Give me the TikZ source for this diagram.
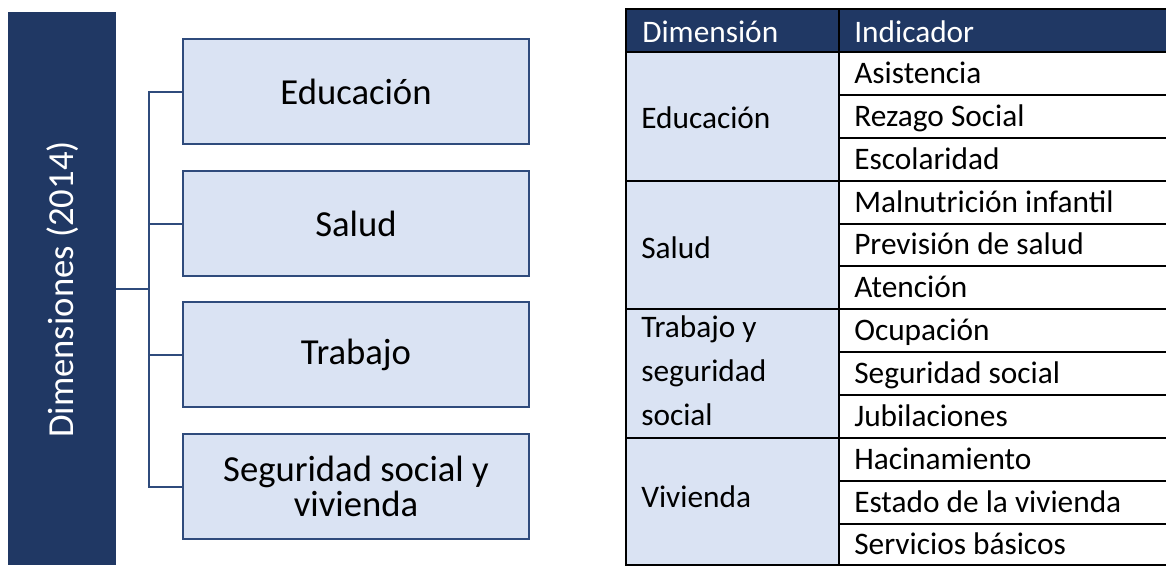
\documentclass[tikz,border=0pt]{standalone}
\usepackage{fontspec}
\setmainfont{Carlito}
\definecolor{navy}{HTML}{203864}
\definecolor{lightblue}{HTML}{DAE3F3}
\definecolor{edgeblue}{HTML}{2F4B7C}
\begin{document}
\begin{tikzpicture}[x=0.75pt,y=-0.75pt,
  dimbar/.style={fill=navy,draw=none,minimum width=81pt,minimum height=414.75pt,inner sep=0pt,outer sep=0pt},
  dimlabel/.style={rotate=90,text=white,inner sep=0pt,font=\fontsize{27.5}{33}\selectfont},
  dimbox/.style={fill=lightblue,draw=edgeblue,line width=1.5pt,minimum width=259.5pt,minimum height=78.75pt,inner sep=0pt,outer sep=0pt,align=center,font=\fontsize{27.5}{26.5}\selectfont},
  conn/.style={draw=edgeblue,line width=1.5pt},
  tabline/.style={draw=black,line width=1.5pt},
  tabtext/.style={anchor=base west,inner sep=0pt,font=\fontsize{23.5}{33}\selectfont},
  headtext/.style={tabtext,text=white}]
\useasboundingbox (0,0) rectangle (1166,565);

% ---------- tree ----------
\node[dimbar] (dim) at (62,288.5) {};
\node[dimlabel] (dimtext) at (63,289.5) {Dimensiones (2014)};
\node[dimbox] (b1) at (356,91.5) {Educación};
\node[dimbox] (b2) at (356,223.5) {Salud};
\node[dimbox] (b3) at (356,354.5) {Trabajo};
\node[dimbox] (b4) at (356,486.5) {Seguridad social y\\vivienda};
\coordinate (spine) at (149,0);
\draw[conn] (b1.west) -- (b1.west -| spine) -- (b4.west -| spine) -- (b4.west);
\draw[conn] (b2.west) -- (b2.west -| spine);
\draw[conn] (b3.west) -- (b3.west -| spine);
\draw[conn] (dim.east |- 0,289) -- (spine |- 0,289);

% ---------- table ----------
\fill[navy] (626,9) rectangle (1168,52);
\fill[lightblue] (626,52) rectangle (839,566);
% full-width lines
\foreach \y in {9,52,180.6,309.2,437.8,565.4}
  \draw[tabline] (625,\y) -- (1168,\y);
% indicator-only lines
\foreach \y in {94.9,137.7,223.5,266.4,352.1,395,480.7,523.6}
  \draw[tabline] (839,\y) -- (1168,\y);
\draw[tabline] (626,9) -- (626,566);
\draw[tabline] (839,9) -- (839,566);

\node[headtext] (hdim) at (642,42) {Dimensión};
\node[headtext] (hind) at (854,42) {Indicador};

\node[tabtext] (deduc) at (641,128) {Educación};
\node[tabtext] (dsalud) at (641,258) {Salud};
\node[tabtext,align=left] (dtrab) at (641,425) {Trabajo y\\seguridad\\social};
\node[tabtext] (dviv) at (641,507) {Vivienda};

\node[tabtext] (i1) at (854,83.5) {Asistencia};
\node[tabtext] (i2) at (854,126.3) {Rezago Social};
\node[tabtext] (i3) at (854,169.2) {Escolaridad};
\node[tabtext] (i4) at (854,212) {Malnutrición infantil};
\node[tabtext] (i5) at (854,254.9) {Previsión de salud};
\node[tabtext] (i6) at (854,297.8) {Atención};
\node[tabtext] (i7) at (854,340.6) {Ocupación};
\node[tabtext] (i8) at (854,383.5) {Seguridad social};
\node[tabtext] (i9) at (854,426.3) {Jubilaciones};
\node[tabtext] (i10) at (854,469.2) {Hacinamiento};
\node[tabtext] (i11) at (854,512) {Estado de la vivienda};
\node[tabtext] (i12) at (854,554.9) {Servicios básicos};
\end{tikzpicture}
\end{document}
